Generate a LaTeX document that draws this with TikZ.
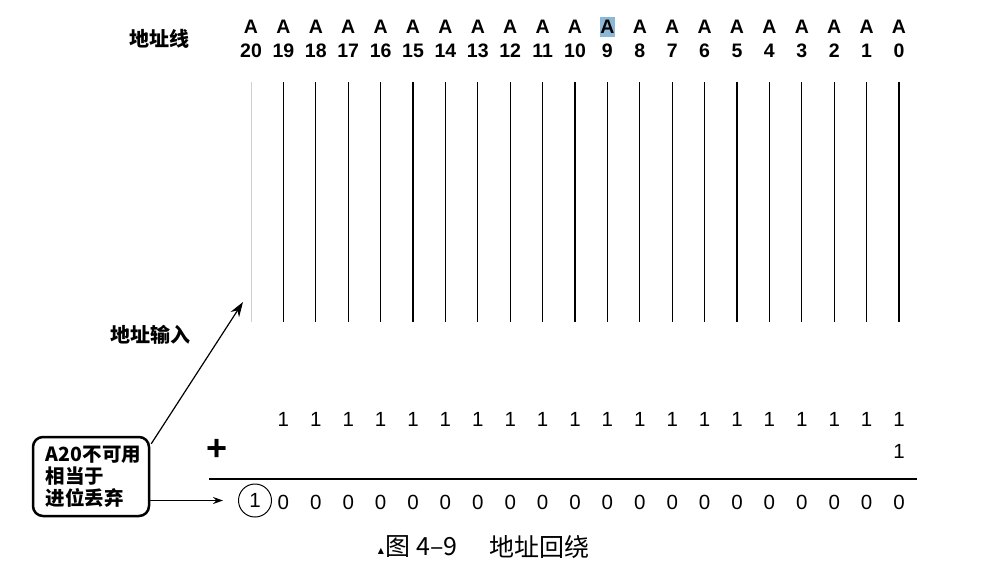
\documentclass[tikz,border=0pt]{standalone}
\usepackage{fontspec}
\setmainfont{Liberation Sans}
\newfontfamily\cjk{Noto Sans CJK SC}
\newfontfamily\symf{DejaVu Sans}
\usetikzlibrary{arrows.meta,calc}
\definecolor{hl}{RGB}{140,184,216}
\definecolor{faint}{RGB}{205,205,205}
\begin{document}
\begin{tikzpicture}[x=1pt,y=-1pt,
 lbl/.style={font=\fontsize{19.5}{19.5}\selectfont\bfseries, inner sep=0pt},
 digit/.style={font=\fontsize{20.5}{20.5}\selectfont, inner sep=0pt},
 cjklbl/.style={font=\cjk\bfseries\fontsize{20}{20}\selectfont, inner sep=0pt},
 captxt/.style={font=\cjk\fontsize{25}{25}\selectfont, inner sep=0pt, anchor=west},
 wire/.style={line width=1.2pt},
 arr/.style={line width=1.2pt,-{Stealth[length=15pt,width=10pt]}},
 arrs/.style={line width=1.2pt,-{Stealth[length=10pt,width=7pt]}},
 notebox/.style={draw, rounded corners=10pt, line width=2.5pt, align=left,
   font=\cjk\bfseries\fontsize{19.5}{22}\selectfont, minimum width=116pt,
   minimum height=79pt, inner sep=4pt},
]
\useasboundingbox (0,0) rectangle (1001,570);
\fill[white] (0,0) rectangle (1001,570);
% highlight behind A9
\fill[hl] (600,16.5) rectangle (615,37);
\foreach \i in {0,...,20} {
  \pgfmathsetmacro\xx{899-32.4*\i}
  \node[lbl] (A\i) at (\xx,27) {A};
  \node[lbl] (n\i) at (\xx,51) {\i};
  \coordinate (t\i) at (\xx,82);
  \coordinate (b\i) at (\xx,322);
}
\node[cjklbl] (addrlines) at (159,38.5) {地址线};
\foreach \i in {0,...,19} \draw[wire] (t\i) -- (b\i);
\draw[faint, line width=0.8pt] (t20) -- (b20);
% addition
\foreach \i in {0,...,19} {
  \pgfmathsetmacro\xx{899-32.4*\i}
  \node[digit] (o\i) at (\xx,419) {1};
  \node[digit] (z\i) at (\xx,502) {0};
}
\node[digit] (add) at (899,451) {1};
\node[font=\fontsize{36}{36}\selectfont\bfseries, inner sep=0pt] (plus) at (217,450) {+};
\coordinate (sl) at (209,479);
\coordinate (sr) at (917,479);
\draw[line width=1.5pt] (sl) -- (sr);
\node[digit, circle, draw, line width=1pt, minimum size=33pt] (carry) at (255,500.5) {1};
% note
\node[notebox] (box) at (91,476.5) {\hspace*{5pt}A20不可用\\\hspace*{5pt}相当于\\\hspace*{5pt}进位丢弃};
\node[cjklbl] (addrin) at (150,335) {地址输入};
\coordinate (inTip) at (243,302);
\draw[arr] ($(box.north east)+(1,8)$) -- (inTip);
\draw[arrs] (box.east |- carry) -- ([xshift=-15pt]carry.west);
% caption
\node[font=\symf\fontsize{8}{8}\selectfont, inner sep=0pt] (tri) at (381,551) {▲};
\node[captxt] (capfig) at (385,547) {图};
\node[captxt] (capnum) at (416,547) {4–9};
\node[captxt] (captitle) at (489,547) {地址回绕};
\end{tikzpicture}
\end{document}
